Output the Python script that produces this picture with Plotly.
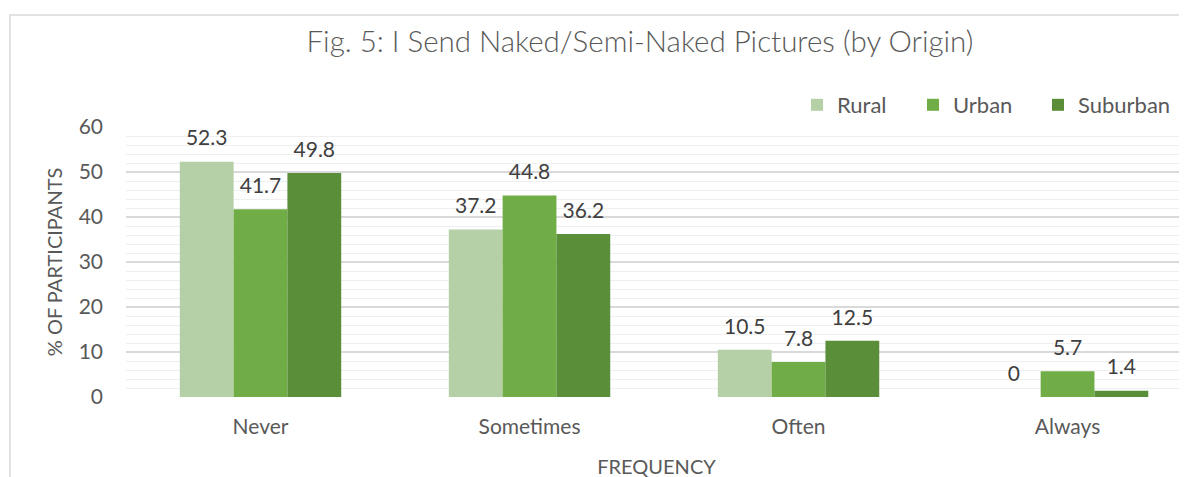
import plotly.graph_objects as go

categories = ["Never", "Sometimes", "Often", "Always"]
series_names = ["Rural", "Urban", "Suburban"]
rural = [52.3, 37.2, 10.5, 0]
urban = [41.7, 44.8, 7.8, 5.7]
suburban = [49.8, 36.2, 12.5, 1.4]
colors = ["#b5cfa7", "#70ad47", "#5a8e38"]
y_ticks = [0, 10, 20, 30, 40, 50, 60]

FONT = "Lato, 'Open Sans', sans-serif"
OFF = 8  # page body margin
W, H = 1187, 477
L, R, T, B = 126 - OFF, OFF, 127 - OFF, 80 + OFF
legend_ids = ["legend", "legend2", "legend3"]
legend_px = [797, 913, 1038]

fig = go.Figure()
for name, vals, col, lg in zip(series_names, [rural, urban, suburban], colors, legend_ids):
    fig.add_trace(go.Bar(
        x=categories, y=vals, name=name, offsetgroup=name, legend=lg,
        marker=dict(color=col, line=dict(width=0)),
        hoverinfo="x+y+name",
    ))
for name, vals in zip(series_names, [rural, urban, suburban]):
    fig.add_trace(go.Scatter(
        x=categories, y=vals, name=name, offsetgroup=name, orientation="v",
        mode="markers+text", text=[f"{v:g}" for v in vals], textposition="top center",
        marker=dict(size=16, color="rgba(0,0,0,0)"),
        textfont=dict(family=FONT, size=21, color="#404040"),
        showlegend=False, cliponaxis=False, hoverinfo="skip",
    ))

pw = W - L - R
ph = H - T - B
def px_x(p):
    return (p - OFF - L) / pw
def px_y(p):
    return (H - B - (p - OFF)) / ph

legend_style = {}
for lg, xp in zip(legend_ids, legend_px):
    legend_style[lg] = dict(orientation="h", x=px_x(xp), xanchor="left", y=px_y(105), yanchor="middle",
                            font=dict(family=FONT, size=22, color="#595959"),
                            itemwidth=30, bgcolor="rgba(0,0,0,0)")

fig.update_layout(
    width=W, height=H,
    margin=dict(l=L, r=R, t=T, b=B, autoexpand=False),
    paper_bgcolor="white", plot_bgcolor="white",
    barmode="group", bargap=0.40, bargroupgap=0,
    scattermode="group", scattergap=0.40,
    font=dict(family=FONT, color="#595959"),
    title=dict(text="Fig. 5: I Send Naked/Semi-Naked Pictures (by Origin)",
               x=(640 - OFF) / W, xanchor="center", y=1 - (42 - OFF) / H, yanchor="middle", yref="container",
               font=dict(family=FONT, size=29.5, color="#595959", weight=300)),
    showlegend=True,
    shapes=[dict(type="path", xref="paper", yref="paper",
                 path=f"M {px_x(10)},{px_y(490)} L {px_x(10)},{px_y(15)} L {px_x(1200)},{px_y(15)}",
                 line=dict(color="#d9d9d9", width=1.5), layer="below")],
    **legend_style,
)
fig.update_xaxes(
    range=[-0.5, 3.444], showgrid=False, zeroline=False, showline=False,
    ticks="outside", ticklen=0, ticklabelstandoff=11,
    tickfont=dict(family=FONT, size=21, color="#595959"),
    title=dict(text="FREQUENCY", standoff=22, font=dict(family=FONT, size=20, color="#595959")),
)
fig.update_yaxes(
    range=[0, 60], tickvals=y_ticks, showgrid=True, gridcolor="#d9d9d9", gridwidth=1.5,
    zeroline=False, showline=False, ticklabelstandoff=22,
    minor=dict(dtick=2, showgrid=True, gridcolor="#efefef", gridwidth=1),
    tickfont=dict(family=FONT, size=21, color="#595959"),
    title=dict(text="% OF PARTICIPANTS", standoff=10, font=dict(family=FONT, size=20, color="#595959")),
)

fig.write_html("out.html")
